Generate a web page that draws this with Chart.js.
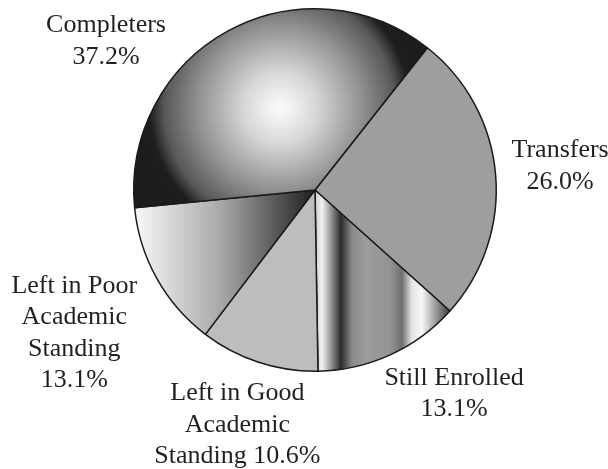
<!DOCTYPE html>
<html>
<head>
<meta charset="utf-8">
<script src="https://cdn.jsdelivr.net/npm/chart.js@4.4.0/dist/chart.umd.min.js"></script>
<style>
  html, body { margin: 0; padding: 0; background: #fff; }
  #wrap { width: 608px; height: 469px; }
</style>
</head>
<body>
<div id="wrap"><canvas id="pie"></canvas></div>
<script>
const categories = ["Transfers", "Still Enrolled", "Left in Good Academic Standing", "Left in Poor Academic Standing", "Completers"];
const values = [26.0, 13.1, 10.6, 13.1, 37.2];
const labelLines = [
  ["Transfers", "{v}%"],
  ["Still Enrolled", "{v}%"],
  ["Left in Good", "Academic", "Standing {v}%"],
  ["Left in Poor", "Academic", "Standing", "{v}%"],
  ["Completers", "{v}%"]
];

// label nudges away from the plain radial spot (px)
const labelShift = [[0, -3], [37, -20], [-1, 1], [-26, 23], [-91, 67]];

const FONT = "26px 'Liberation Serif'";

function geom(chart) {
  const a = chart.chartArea;
  return { cx: (a.left + a.right) / 2, cy: (a.top + a.bottom) / 2, r: Math.min(a.width, a.height) / 2 };
}

function sliceFill(c) {
  const chart = c.chart;
  if (!chart.chartArea) return "#9d9ea0";
  const g = geom(chart);
  const ctx = chart.ctx;
  const i = c.dataIndex;
  if (i === 0) return "#9d9ea0";
  if (i === 2) return "#bcbdbf";
  if (i === 4) {
    const gx = g.cx - 35, gy = g.cy - 82;
    const grad = ctx.createRadialGradient(gx, gy, 0, gx, gy, 148);
    grad.addColorStop(0, "#fdfdfd");
    grad.addColorStop(0.25, "#d6d6d8");
    grad.addColorStop(0.55, "#929294");
    grad.addColorStop(0.78, "#58585a");
    grad.addColorStop(0.88, "#1e1e1e");
    grad.addColorStop(1, "#1c1c1c");
    return grad;
  }
  if (i === 3) {
    const grad = ctx.createLinearGradient(g.cx - g.r, 0, g.cx - 5, 0);
    grad.addColorStop(0, "#fafafa");
    grad.addColorStop(0.5, "#a8a8aa");
    grad.addColorStop(1, "#262626");
    return grad;
  }
  // still enrolled: vertical banding
  const x0 = g.cx + 1, x1 = g.cx + 135;
  const grad = ctx.createLinearGradient(x0, 0, x1, 0);
  const stops = [
    [0, "#d0d0d0"], [6, "#f2f2f2"], [14, "#a0a0a2"], [25, "#2a2a2a"],
    [36, "#8a8a8c"], [50, "#9c9c9e"], [74, "#949496"], [86, "#707072"],
    [96, "#e6e6e6"], [106, "#f7f7f7"], [119, "#a0a0a2"], [134, "#3a3a3a"]
  ];
  stops.forEach(s => grad.addColorStop(s[0] / 134, s[1]));
  return grad;
}

const outerLabels = {
  id: "outerLabels",
  afterDatasetsDraw(chart) {
    const ctx = chart.ctx;
    const meta = chart.getDatasetMeta(0);
    const g = geom(chart);
    ctx.save();
    ctx.font = FONT + ", 'Times New Roman', serif";
    ctx.fillStyle = "#231f20";
    ctx.textAlign = "center";
    ctx.textBaseline = "middle";
    const lh = 31.5;
    meta.data.forEach((arc, i) => {
      const mid = (arc.startAngle + arc.endAngle) / 2;
      const d = g.r + 64;
      const x = g.cx + Math.cos(mid) * d + labelShift[i][0];
      const y = g.cy + Math.sin(mid) * d + labelShift[i][1];
      const lines = labelLines[i].map(s => s.replace("{v}", values[i].toFixed(1)));
      const top = y - (lines.length - 1) * lh / 2;
      lines.forEach((s, k) => ctx.fillText(s, x, top + k * lh));
    });
    ctx.restore();
  }
};

function draw() {
  new Chart(document.getElementById("pie"), {
    type: "pie",
    data: {
      labels: categories,
      datasets: [{
        data: values,
        backgroundColor: sliceFill,
        borderColor: "#1a1a1a",
        borderWidth: 1.5,
        hoverOffset: 0
      }]
    },
    options: {
      responsive: true,
      maintainAspectRatio: false,
      animation: false,
      rotation: 38.3,
      layout: { padding: { top: 8, bottom: 97, left: 22, right: 0 } },
      plugins: {
        legend: { display: false },
        tooltip: { enabled: false }
      }
    },
    plugins: [outerLabels]
  });
}

document.fonts.load(FONT).then(draw, draw);
</script>
</body>
</html>
